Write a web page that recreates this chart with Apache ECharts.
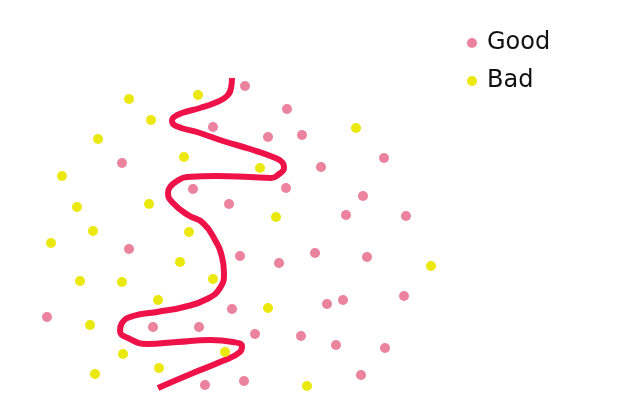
<!DOCTYPE html>
<html>
<head>
<meta charset="utf-8">
<script src="https://cdn.jsdelivr.net/npm/echarts@6/dist/echarts.min.js"></script>
<style>html,body{margin:0;padding:0;background:#fff;}#c{width:640px;height:400px;}</style>
</head>
<body>
<div id="c"></div>
<script>
var seriesNames = ['Good', 'Bad'];

var goodPoints = [
  [245,86],[287,109],[213,127],[268,137],[302,135],[122,163],[384,158],[321,167],
  [193,189],[286,188],[229,204],[363,196],[346,215],[406,216],[129,249],[240,256],
  [279,263],[315,253],[367,257],[47,317],[232,309],[327,304],[343,300],[404,296],
  [153,327],[199,327],[255,334],[301,336],[336,345],[385,348],[205,385],[244,381],[361,375]
];

var badPoints = [
  [129,99],[198,95],[151,120],[98,139],[184,157],[260,168],[356,128],[62,176],
  [77,207],[149,204],[276,217],[93,231],[189,232],[51,243],[180,262],[80,281],
  [122,282],[213,279],[431,266],[158,300],[268,308],[90,325],[225,352],[123,354],
  [159,368],[95,374],[307,386]
];

var boundaryPoints = [
  [232,78],[231,88],[227,96],[217,102],[200,108],[182,113],[174,117],[172,121],
  [176,126],[200,133],[223,141],[250,149],[273,157],[282,162],[284,168],[279,174],
  [271,178],[250,177],[217,176],[187,177],[177,181],[170,187],[168,193],[173,203],
  [188,215],[203,223],[215,240],[222,257],[224,273],[220,288],[207,299],[184,307],
  [157,312],[133,316],[122,323],[120,331],[128,338],[147,344],[177,342],[210,340],
  [233,342],[242,346],[240,352],[220,362],[193,373],[158,388]
];

var chart = echarts.init(document.getElementById('c'), null, {renderer: 'canvas'});
chart.setOption({
  animation: false,
  backgroundColor: '#ffffff',
  grid: {left: 0, right: 0, top: 0, bottom: 0},
  xAxis: {type: 'value', min: 0, max: 640, show: false},
  yAxis: {type: 'value', min: 0, max: 400, inverse: true, show: false},
  legend: {
    data: seriesNames,
    orient: 'vertical',
    left: 462,
    top: 26,
    icon: 'circle',
    itemWidth: 20,
    itemHeight: 10,
    itemGap: 14,
    textStyle: {fontFamily: 'DejaVu Sans', fontSize: 24, color: '#111'}
  },
  series: [
    {
      name: 'boundary',
      type: 'line',
      data: boundaryPoints,
      smooth: 0.5,
      showSymbol: false,
      symbol: 'none',
      z: 1,
      lineStyle: {color: '#ee1249', width: 6, cap: 'butt', join: 'round'}
    },
    {
      name: seriesNames[0],
      type: 'scatter',
      data: goodPoints,
      symbolSize: 10,
      z: 3,
      itemStyle: {color: '#eb829e', opacity: 1}
    },
    {
      name: seriesNames[1],
      type: 'scatter',
      data: badPoints,
      symbolSize: 10,
      z: 3,
      itemStyle: {color: '#ebe80d', opacity: 1}
    }
  ]
});
</script>
</body>
</html>
